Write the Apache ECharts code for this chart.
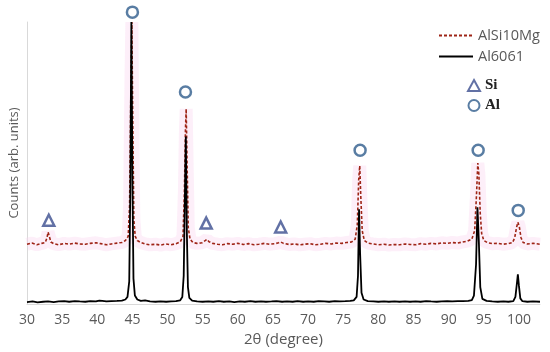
<!DOCTYPE html>
<html>
<head>
<meta charset="utf-8">
<script src="https://cdn.jsdelivr.net/npm/echarts@6/dist/echarts.min.js"></script>
<style>html,body{margin:0;padding:0;background:#fff}#c{width:550px;height:352px}</style>
</head>
<body>
<div id="c"></div>
<script>
// 2θ (degree) and counts (arb. units)
const xTicks = [30, 35, 40, 45, 50, 55, 60, 65, 70, 75, 80, 85, 90, 95, 100];

const alsi10mg = [
  [30,21.2],[30.7,21.6],[31.4,21.0],[32.1,21.5],[32.6,21.8],[32.85,23.5],[33.0,25.5],[33.15,24.2],[33.4,22.0],[33.8,21.4],
  [34.5,21.0],[35.3,21.5],[36.0,21.2],[36.8,21.6],[37.5,21.3],[38.3,21.2],[39.0,21.5],[39.8,21.7],[40.5,21.4],[41.3,21.0],
  [42.0,21.3],[42.8,21.6],[43.5,21.8],[44.0,22.5],[44.4,24],[44.6,35],[44.8,80],[44.92,100],[45.05,65],[45.2,30],
  [45.4,24],[45.7,22.5],[46.2,21.8],[46.8,21.3],[47.5,21.0],[48.3,21.2],[49.0,20.9],[49.8,21.3],[50.5,21.0],[51.2,21.4],
  [51.8,22.0],[52.2,24],[52.4,40],[52.55,62],[52.65,69.2],[52.78,50],[52.95,27],[53.2,23],[53.6,21.8],[54.2,21.5],
  [54.9,21.7],[55.3,22.4],[55.6,22.9],[55.9,22.1],[56.4,21.5],[57.1,21.2],[57.8,21.0],[58.5,21.4],[59.3,21.2],[60.0,21.5],
  [60.8,21.1],[61.5,21.4],[62.3,21.0],[63.0,21.2],[63.8,21.5],[64.5,21.2],[65.3,21.4],[65.8,21.7],[66.1,22.0],[66.5,21.5],
  [67.3,21.1],[68.0,21.3],[68.8,21.0],[69.5,21.2],[70.3,21.4],[71.0,21.0],[71.8,21.2],[72.5,21.5],[73.3,21.3],[74.0,21.6],
  [74.8,21.5],[75.5,21.8],[76.2,22.0],[76.7,23.0],[77.0,28],[77.2,44],[77.35,49],[77.5,38],[77.7,26],[78.0,22.5],
  [78.5,21.6],[79.2,21.3],[80.0,21.0],[80.8,21.2],[81.5,20.9],[82.3,21.1],[83.0,21.0],[83.8,21.3],[84.5,21.1],[85.3,21.0],
  [86.0,21.4],[86.8,21.2],[87.5,21.5],[88.3,21.3],[89.0,21.7],[89.8,21.5],[90.5,21.8],[91.3,21.6],[92.0,22.0],[92.7,22.3],
  [93.3,23.0],[93.7,26],[93.95,38],[94.15,50],[94.3,46],[94.5,32],[94.7,25],[95.0,22.5],[95.5,21.8],[96.2,21.4],
  [97.0,21.5],[97.7,21.2],[98.5,21.4],[99.1,21.8],[99.4,23.5],[99.65,27],[99.85,29],[100.05,27.5],[100.3,23.5],[100.6,21.8],
  [101.2,21.3],[102.0,21.5],[103,21.2]
];

const al6061 = [
  [30.0,0.7],[30.8,0.9],[31.5,0.6],[32.3,0.8],[33.0,0.9],[33.8,0.7],[34.5,0.9],[35.3,1.0],[36.0,0.8],[36.8,1.0],
  [37.5,0.9],[38.3,0.8],[39.0,1.0],[39.8,0.9],[40.3,1.2],[40.5,1.9],[40.7,1.1],[41.3,0.9],[42.0,1.0],[42.8,1.1],
  [43.5,1.2],[44.0,1.6],[44.3,2.5],[44.55,8],[44.7,40],[44.85,100],[45.0,45],[45.15,9],[45.35,3],[45.7,1.6],
  [46.2,1.1],[46.8,1.3],[47.5,0.9],[48.3,0.8],[49.0,0.9],[49.8,0.8],[50.5,0.9],[51.2,1.0],[51.8,1.3],[52.1,2.5],
  [52.3,10],[52.45,35],[52.6,59.4],[52.75,25],[52.9,6],[53.1,2.2],[53.5,1.2],[54.2,0.9],[55.0,0.8],[55.8,0.9],
  [56.5,0.8],[57.3,1.0],[58.0,0.8],[58.8,0.9],[59.5,0.7],[60.3,0.9],[61.0,0.8],[61.8,1.0],[62.5,0.8],[63.3,0.9],
  [64.0,0.8],[64.8,0.9],[65.5,1.0],[66.3,0.8],[67.0,0.9],[67.8,0.8],[68.5,1.0],[69.3,0.8],[70.0,0.9],[70.8,0.8],
  [71.5,1.0],[72.3,0.9],[73.0,0.8],[73.8,1.0],[74.5,0.9],[75.3,1.0],[76.0,1.1],[76.5,1.3],[76.9,2.5],[77.1,10],
  [77.25,33.6],[77.4,18],[77.6,4],[77.9,1.6],[78.5,1.0],[79.3,0.9],[80.0,0.8],[80.8,0.9],[81.5,0.8],[82.3,0.9],
  [83.0,0.8],[83.8,0.9],[84.5,0.8],[85.3,0.9],[86.0,0.8],[86.8,1.0],[87.5,0.9],[88.3,0.8],[89.0,0.9],[89.8,1.0],
  [90.5,0.9],[91.3,1.0],[92.0,1.0],[92.8,1.1],[93.3,1.4],[93.6,3],[93.9,14],[94.1,34.3],[94.3,22],[94.5,6],
  [94.8,1.8],[95.4,1.1],[96.2,0.9],[97.0,0.8],[97.8,0.9],[98.5,0.8],[99.2,1.0],[99.5,2.5],[99.7,7],[99.85,10.5],
  [100.0,6.5],[100.2,2],[100.5,1.0],[101.2,0.8],[102.0,0.9],[103,0.8]
];

const alMarks = [[45.0,103.5],[52.55,75.2],[77.4,54.5],[94.2,54.5],[99.9,33.2]];
const siMarks = [[33.1,29.7],[55.5,28.7],[66.1,27.3]];

const FONT = '"Open Sans", Lato, sans-serif';
const chart = echarts.init(document.getElementById('c'));
chart.setOption({
  animation: false,
  backgroundColor: '#fff',
  grid: { left: 24, right: 10, top: 22, bottom: 44 },
  xAxis: {
    type: 'value', min: 30, max: 103, interval: 5,
    name: '2θ (degree)', nameLocation: 'middle', nameGap: 28,
    nameTextStyle: { color: '#595959', fontSize: 15, fontFamily: FONT },
    axisLine: { show: true, lineStyle: { color: '#d9d9d9', width: 1 } },
    axisTick: { show: false },
    splitLine: { show: false },
    axisLabel: {
      color: '#595959', fontSize: 14, fontFamily: FONT, margin: 9,
      formatter: v => (xTicks.indexOf(v) >= 0 ? String(v) : '')
    }
  },
  yAxis: {
    type: 'value', min: 0, max: 100,
    name: 'Counts (arb. units)', nameLocation: 'middle', nameGap: 6,
    nameTextStyle: { color: '#595959', fontSize: 13, fontFamily: FONT },
    axisLine: { show: true, lineStyle: { color: '#d9d9d9', width: 1 } },
    axisTick: { show: false }, axisLabel: { show: false }, splitLine: { show: false }
  },
  legend: [
    {
      orient: 'vertical', left: 433, top: 23, itemWidth: 34, itemHeight: 15, itemGap: 6,
      selectedMode: false,
      itemStyle: { opacity: 0 },
      textStyle: { color: '#595959', fontSize: 14.5, fontFamily: FONT },
      data: ['AlSi10Mg', 'Al6061']
    },
    {
      orient: 'vertical', left: 462, top: 73, itemWidth: 12, itemHeight: 11, itemGap: 5,
      selectedMode: false,
      textStyle: { color: '#222', fontSize: 15, fontWeight: 'bold', fontFamily: '"Liberation Serif", serif' },
      data: ['Si', 'Al']
    }
  ],
  series: [
    {
      name: 'band', type: 'line', data: alsi10mg, showSymbol: false, silent: true,
      lineStyle: { color: 'rgba(250,215,240,0.4)', width: 13 }, z: 1
    },
    {
      name: 'AlSi10Mg', type: 'line', data: alsi10mg, showSymbol: false, symbol: 'none',
      lineStyle: { color: '#9e2416', width: 1.6, type: [3, 2] }, itemStyle: { color: '#c00000' }, z: 2
    },
    {
      name: 'Al6061', type: 'line', data: al6061, showSymbol: false, symbol: 'none',
      lineStyle: { color: '#000', width: 1.8 }, itemStyle: { color: '#000' }, z: 3
    },
    {
      name: 'Si', type: 'scatter', data: siMarks, symbol: 'triangle', symbolSize: 11, clip: false,
      itemStyle: { color: '#fff', borderColor: '#3b4d8f', borderWidth: 2.5 }, z: 4
    },
    {
      name: 'Al', type: 'scatter', data: alMarks, symbol: 'circle', symbolSize: 11, clip: false,
      itemStyle: { color: '#fff', borderColor: '#2f5d8c', borderWidth: 2.5 }, z: 4
    }
  ]
});
</script>
</body>
</html>
